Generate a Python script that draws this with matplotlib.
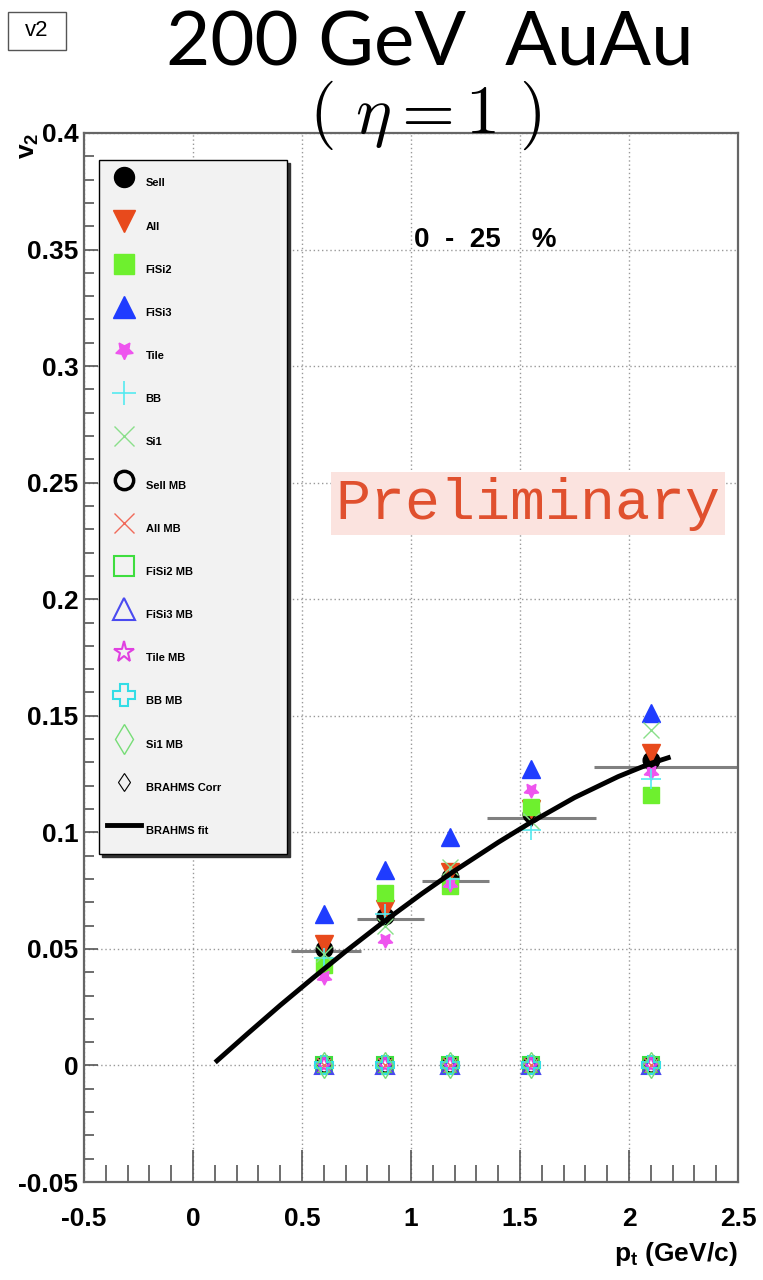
import matplotlib
matplotlib.use("Agg")
import matplotlib.pyplot as plt
from matplotlib.patches import Rectangle
from matplotlib.ticker import MultipleLocator

plt.rcParams["font.family"] = ["Liberation Sans", "DejaVu Sans"]
# sub/superscripts in axis titles use the bold sans face
plt.rcParams["mathtext.fontset"] = "custom"
plt.rcParams["mathtext.rm"] = "Liberation Sans:bold"
plt.rcParams["mathtext.it"] = "Liberation Sans:bold"
plt.rcParams["mathtext.bf"] = "Liberation Sans:bold"

# pt bins (GeV/c)
pt = [0.6, 0.88, 1.18, 1.55, 2.1]

# v2 per detector, 0-25 % centrality
sell = [0.050, 0.064, 0.081, 0.108, 0.131]
all_det = [0.052, 0.067, 0.083, 0.110, 0.134]
fisi2 = [0.043, 0.074, 0.077, 0.111, 0.116]
fisi3 = [0.065, 0.084, 0.098, 0.127, 0.151]
tile = [0.038, 0.054, 0.078, 0.118, 0.126]
bb = [0.046, 0.065, 0.080, 0.101, 0.123]
si1 = [0.048, 0.060, 0.085, 0.105, 0.144]

# MB results are empty -> sit at zero
sell_mb = [0.0, 0.0, 0.0, 0.0, 0.0]
all_mb = [0.0, 0.0, 0.0, 0.0, 0.0]
fisi2_mb = [0.0, 0.0, 0.0, 0.0, 0.0]
fisi3_mb = [0.0, 0.0, 0.0, 0.0, 0.0]
tile_mb = [0.0, 0.0, 0.0, 0.0, 0.0]
bb_mb = [0.0, 0.0, 0.0, 0.0, 0.0]
si1_mb = [0.0, 0.0, 0.0, 0.0, 0.0]

# BRAHMS corrected points with pt bin ranges
corr_v2 = [0.049, 0.063, 0.079, 0.106, 0.128]
corr_lo = [0.45, 0.75, 1.05, 1.35, 1.84]
corr_hi = [0.77, 1.06, 1.36, 1.85, 2.55]

# BRAHMS fit curve
fit_pt = [0.11, 0.25, 0.40, 0.55, 0.70, 0.88, 1.05, 1.20, 1.40, 1.55, 1.75, 1.95, 2.10, 2.18]
fit_v2 = [0.002, 0.0136, 0.0258, 0.0375, 0.0489, 0.0620, 0.0737, 0.0835, 0.0957,
          0.1043, 0.1149, 0.1239, 0.1296, 0.1320]

xtick_vals = [-0.5, 0, 0.5, 1, 1.5, 2, 2.5]
xtick_labels = ["-0.5", "0", "0.5", "1", "1.5", "2", "2.5"]
ytick_vals = [-0.05, 0, 0.05, 0.1, 0.15, 0.2, 0.25, 0.3, 0.35, 0.4]
ytick_labels = ["-0.05", "0", "0.05", "0.1", "0.15", "0.2", "0.25", "0.3", "0.35", "0.4"]

fig = plt.figure(figsize=(7.63, 12.8), dpi=100)
ax = fig.add_axes([84 / 763, 1 - 1182 / 1280, 654 / 763, 1049 / 1280])

ax.set_xlim(-0.5, 2.5)
ax.set_ylim(-0.05, 0.4)

# detector series (filled / thin markers)
series = [
    (sell, "Sell", dict(marker="o", color="black", ms=12)),
    (all_det, "All", dict(marker="v", color="#e84a1c", ms=13)),
    (fisi2, "FiSi2", dict(marker="s", color="#6ef02e", ms=12)),
    (fisi3, "FiSi3", dict(marker="^", color="#1f3cff", ms=13)),
    (tile, "Tile", dict(marker=(5, 1, 180), color="#ee55ee", ms=11)),
    (bb, "BB", dict(marker="+", color="#55eaf0", ms=14, mew=1.2)),
    (si1, "Si1", dict(marker="x", color="#8adf8a", ms=12, mew=1.0)),
    (sell_mb, "Sell MB", dict(marker="o", mfc="none", mec="black", ms=11, mew=2.5)),
    (all_mb, "All MB", dict(marker="x", color="#f06a5a", ms=12, mew=1.0)),
    (fisi2_mb, "FiSi2 MB", dict(marker="s", mfc="none", mec="#3edd3e", ms=12, mew=1.5)),
    (fisi3_mb, "FiSi3 MB", dict(marker="^", mfc="none", mec="#4a4af0", ms=13, mew=1.5)),
    (tile_mb, "Tile MB", dict(marker="*", mfc="none", mec="#e040e0", ms=13, mew=1.5)),
    (bb_mb, "BB MB", dict(marker="P", mfc="none", mec="#33dde6", ms=13, mew=1.5)),
    (si1_mb, "Si1 MB", dict(marker="d", mfc="none", mec="#77dd77", ms=13, mew=1.0)),
]

handles = []
for vals, name, st in series:
    h, = ax.plot(pt, vals, linestyle="none", label=name, zorder=3, **st)
    handles.append(h)

ax.hlines(corr_v2, corr_lo, corr_hi, colors="#808080", lw=2.2, zorder=2)
h_corr, = ax.plot(pt, corr_v2, linestyle="none", marker="d", mfc="none", mec="black",
                  ms=8, mew=0.8, label="BRAHMS Corr", zorder=2.5)
h_fit, = ax.plot(fit_pt, fit_v2, color="black", lw=3.5, label="BRAHMS fit", zorder=5)
handles += [h_corr, h_fit]

# axis styling
ax.set_xticks(xtick_vals)
ax.set_xticklabels(xtick_labels, fontsize=19, fontweight="bold")
ax.set_yticks(ytick_vals)
ax.set_yticklabels(ytick_labels, fontsize=19, fontweight="bold")
ax.xaxis.set_minor_locator(MultipleLocator(0.1))
ax.yaxis.set_minor_locator(MultipleLocator(0.01))
ax.tick_params(axis="x", which="major", direction="in", length=23, width=1.2,
               color="#555555", pad=18, top=False)
ax.tick_params(axis="x", which="minor", direction="in", length=12, width=1.2,
               color="#555555", top=False)
ax.tick_params(axis="y", which="major", direction="in", length=10, width=1.2,
               color="#555555", pad=4, right=False)
ax.tick_params(axis="y", which="minor", direction="in", length=7, width=1.2,
               color="#555555", right=False)
for sp in ax.spines.values():
    sp.set_color("#666666")
    sp.set_linewidth(1.6)

ax.grid(True, which="major", linestyle=(0, (1, 2)), color="#999999", lw=1.0)
ax.set_axisbelow(True)

ax.set_xlabel("p$_{t}$ (GeV/c)", fontsize=19, fontweight="bold", loc="right")
ax.xaxis.set_label_coords(1.0, -0.055)
ax.set_ylabel("v$_{2}$", fontsize=19, fontweight="bold", loc="top")
ax.yaxis.set_label_coords(-0.066, 1.0)

ax.text(1.34, 0.354, "0  -  25    %", fontsize=20, fontweight="bold", ha="center", va="center")
ax.text(1.537, 0.241, "Preliminary", family="Liberation Mono", fontsize=42,
        color="#e0502e", ha="center", va="center",
        bbox=dict(boxstyle="square,pad=0.08", facecolor="#fbe3df", edgecolor="none"))

leg = ax.legend(handles=handles, loc="upper left", mode="expand",
                bbox_to_anchor=(99 / 763, 1 - 160 / 1280, 188 / 763, 0),
                bbox_transform=fig.transFigure,
                prop=dict(size=8, weight="bold"), markerscale=1.2,
                handlelength=3.0, handleheight=3.77, handletextpad=0.45,
                labelspacing=1.19, borderpad=0.75, borderaxespad=0,
                fancybox=False, framealpha=1, facecolor="#f2f2f2",
                edgecolor="black", shadow=dict(color="#333333", alpha=1))
leg.get_frame().set_linewidth(1.0)
leg.set_zorder(6)

# header
fig.text(430 / 763, 1 - 66 / 1280, "200 GeV  AuAu", family="Lato", fontsize=55,
         ha="center", va="baseline")
fig.text(425 / 763, 1 - 115 / 1280, r"$(\ \eta = 1\ )$", fontsize=49,
         ha="center", va="center", math_fontfamily="cm")
fig.add_artist(Rectangle((8 / 763, 1 - 50 / 1280), 58 / 763, 38 / 1280,
                         transform=fig.transFigure, fill=False,
                         edgecolor="#555555", lw=1.0))
fig.text(37 / 763, 1 - 31 / 1280, "v2", fontsize=16, ha="center", va="center")

fig.savefig("out.png", dpi=100)
